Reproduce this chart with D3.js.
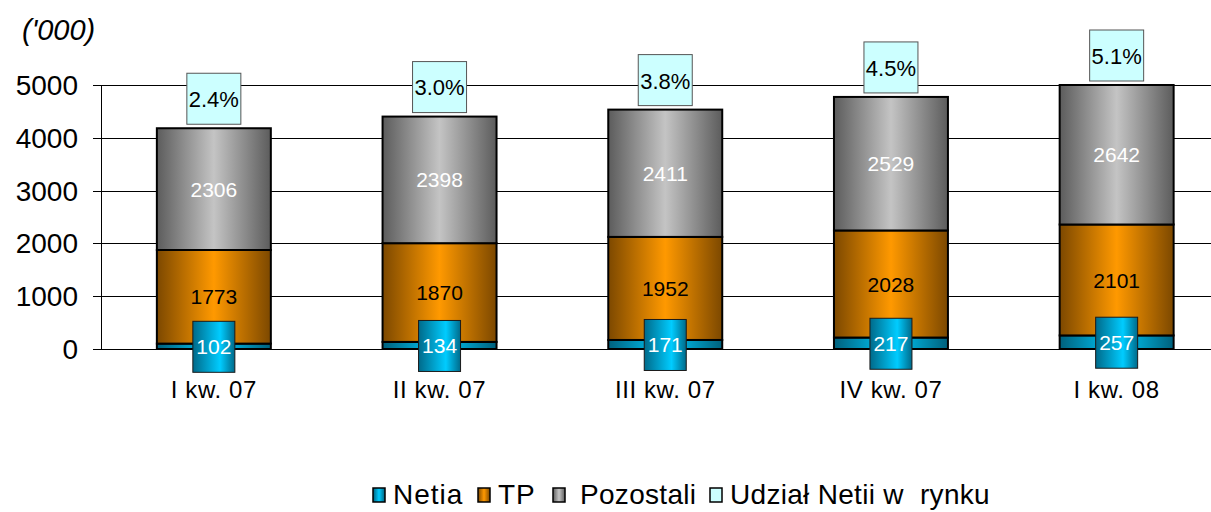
<!DOCTYPE html>
<html>
<head>
<meta charset="utf-8">
<script src="https://cdn.jsdelivr.net/npm/d3@7"></script>
<style>
  body { margin: 0; background: #fff; }
  svg text { font-family: "Liberation Sans", Arial, sans-serif; }
</style>
</head>
<body>
<div id="chart"></div>
<script>
// data
var quarters = ['I kw. 07', 'II kw. 07', 'III kw. 07', 'IV kw. 07', 'I kw. 08'];
var netia = [102, 134, 171, 217, 257];
var tp = [1773, 1870, 1952, 2028, 2101];
var pozostali = [2306, 2398, 2411, 2529, 2642];
var udzial = ['2.4%', '3.0%', '3.8%', '4.5%', '5.1%'];
var yTicks = [0, 1000, 2000, 3000, 4000, 5000];
var legendNames = ['Netia', 'TP', 'Pozostali', 'Udzia\u0142 Netii w\u00a0 rynku'];

var W = 1211, H = 512;
var svg = d3.select('#chart').append('svg')
    .attr('width', W)
    .attr('height', H);

var defs = svg.append('defs');
// cylinder like shading, dark edges and light middle
function grad(id, dark, light, mid) {
    var g = defs.append('linearGradient').attr('id', id)
        .attr('x1', '0%').attr('x2', '100%').attr('y1', '0%').attr('y2', '0%');
    g.append('stop').attr('offset', '0%').attr('stop-color', dark);
    g.append('stop').attr('offset', mid || '50%').attr('stop-color', light);
    g.append('stop').attr('offset', '100%').attr('stop-color', dark);
}
grad('gGray', '#5c5c5c', '#c4c4c4');
grad('gOrange', '#7c4800', '#ff9900');
grad('gBlue', '#00607c', '#00ccff');
grad('gBlueBox', '#006a8a', '#00ccff', '65%');

// plot runs a little past the right edge of the window
var x = d3.scaleBand().domain(quarters).range([101, 1229.5])
    .paddingInner(0.495).paddingOuter(0.2475);
var y = d3.scaleLinear().domain([0, 5000]).range([349, 85]);

// gridlines + ticks
svg.append('g').selectAll('line').data(yTicks).enter().append('line')
    .attr('x1', 93).attr('x2', W)
    .attr('y1', function(d) { return Math.round(y(d)) + 0.5; })
    .attr('y2', function(d) { return Math.round(y(d)) + 0.5; })
    .attr('stroke', '#000').attr('stroke-width', 1);

// y axis line
svg.append('line')
    .attr('x1', 101.5).attr('x2', 101.5)
    .attr('y1', y(5000)).attr('y2', y(0))
    .attr('stroke', '#000');

svg.append('g').selectAll('text').data(yTicks).enter().append('text')
    .attr('x', 78)
    .attr('y', function(d) { return y(d); })
    .attr('dy', '0.36em')
    .attr('text-anchor', 'end')
    .attr('font-size', 28)
    .text(function(d) { return d; });

svg.append('text')
    .attr('x', 22).attr('y', 40)
    .attr('font-size', 29)
    .attr('font-style', 'italic')
    .text("('000)");

// stacked segments
var rows = quarters.map(function(q, i) {
    return { q: q, netia: netia[i], tp: tp[i], poz: pozostali[i], pct: udzial[i] };
});
var stack = d3.stack().keys(['netia', 'tp', 'poz'])(rows);
var fills = { netia: 'url(#gBlue)', tp: 'url(#gOrange)', poz: 'url(#gGray)' };

stack.forEach(function(layer) {
    svg.append('g').selectAll('rect').data(layer).enter().append('rect')
        .attr('x', function(d) { return x(d.data.q); })
        .attr('width', x.bandwidth())
        .attr('y', function(d) { return y(d[1]); })
        .attr('height', function(d) { return y(d[0]) - y(d[1]); })
        .attr('fill', fills[layer.key])
        .attr('stroke', '#000')
        .attr('stroke-width', 2);
});

// labels of TP and Pozostali
var tpLayer = stack[1], pozLayer = stack[2], netLayer = stack[0];
svg.append('g').selectAll('text').data(pozLayer).enter().append('text')
    .attr('x', function(d) { return x(d.data.q) + x.bandwidth() / 2; })
    .attr('y', function(d) { return y((d[0] + d[1]) / 2); })
    .attr('dy', '0.36em')
    .attr('text-anchor', 'middle')
    .attr('font-size', 21)
    .attr('fill', '#fff')
    .text(function(d) { return d.data.poz; });

svg.append('g').selectAll('text').data(tpLayer).enter().append('text')
    .attr('x', function(d) { return x(d.data.q) + x.bandwidth() / 2; })
    .attr('y', function(d) { return y((d[0] + d[1]) / 2); })
    .attr('dy', '0.36em')
    .attr('text-anchor', 'middle')
    .attr('font-size', 21)
    .attr('fill', '#000')
    .text(function(d) { return d.data.tp; });

// Netia label boxes
var nb = svg.append('g').selectAll('g').data(netLayer).enter().append('g')
    .attr('transform', function(d) {
        return 'translate(' + (x(d.data.q) + x.bandwidth() / 2) + ',' + y((d[0] + d[1]) / 2) + ')';
    });
nb.append('rect')
    .attr('x', -21).attr('y', -25).attr('width', 42).attr('height', 51)
    .attr('fill', 'url(#gBlueBox)')
    .attr('stroke', '#1a1a1a').attr('stroke-width', 1);
nb.append('text')
    .attr('y', 0).attr('dy', '0.36em')
    .attr('text-anchor', 'middle')
    .attr('font-size', 21)
    .attr('fill', '#fff')
    .text(function(d) { return d.data.netia; });

// share boxes above bars
var pb = svg.append('g').selectAll('g').data(pozLayer).enter().append('g')
    .attr('transform', function(d) {
        return 'translate(' + (x(d.data.q) + x.bandwidth() / 2) + ',' + (y(d[1]) - 4) + ')';
    });
pb.append('rect')
    .attr('x', -27).attr('y', -51).attr('width', 54).attr('height', 51)
    .attr('fill', '#ccffff')
    .attr('stroke', '#555').attr('stroke-width', 1);
pb.append('text')
    .attr('y', -25).attr('dy', '0.36em')
    .attr('text-anchor', 'middle')
    .attr('font-size', 22)
    .text(function(d) { return d.data.pct; });

// x labels
svg.append('g').selectAll('text').data(quarters).enter().append('text')
    .attr('x', function(d) { return x(d) + x.bandwidth() / 2; })
    .attr('y', 398)
    .attr('text-anchor', 'middle')
    .attr('font-size', 24)
    .attr('letter-spacing', 0.6)
    .text(function(d) { return d; });

// legend
var legendFills = ['url(#gBlue)', 'url(#gOrange)', 'url(#gGray)', '#ccffff'];
var legendX = [373, 478, 553, 710];
legendNames.forEach(function(name, i) {
    svg.append('rect')
        .attr('x', legendX[i]).attr('y', 488).attr('width', 12).attr('height', 14)
        .attr('fill', legendFills[i])
        .attr('stroke', '#000').attr('stroke-width', 1.5);
    svg.append('text')
        .attr('x', legendX[i] + (i == 2 ? 27 : 20)).attr('y', 504)
        .attr('font-size', 28)
        .attr('letter-spacing', i < 2 ? 1 : 0.3)
        .text(name);
});
</script>
</body>
</html>
